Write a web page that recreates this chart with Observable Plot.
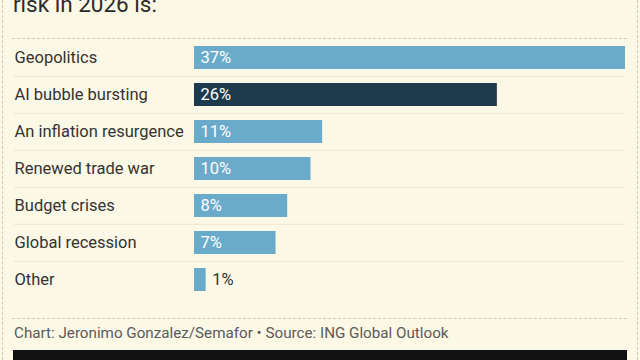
<!DOCTYPE html>
<html>
<head>
<meta charset="utf-8">
<script src="https://cdn.jsdelivr.net/npm/d3@7"></script>
<script src="https://cdn.jsdelivr.net/npm/@observablehq/plot@0.6"></script>
<style>
  html, body { margin: 0; padding: 0; background: #fcf8e6; }
  #wrap { position: relative; width: 640px; height: 360px; overflow: hidden; background: #fcf8e6; font-family: Roboto, "Noto Sans", sans-serif; }
  #border { position: absolute; left: 2px; right: 2px; top: -5px; bottom: -5px; border-left: 1px dashed #cfcabb; border-right: 1px dashed #cfcabb; }
  #title { position: absolute; left: 13px; top: -7px; font-size: 22.5px; line-height: 23px; color: #2b2b2b; white-space: nowrap; }
  .sep { position: absolute; left: 12px; width: 615px; border-top: 1px dashed #cfcabb; height: 0; }
  #chart { position: absolute; left: 0; top: 37px; }
  #footer { position: absolute; left: 14px; top: 323px; font-size: 15.2px; line-height: 20px; color: #5a5a5a; white-space: nowrap; }
  #black { position: absolute; left: 13px; width: 614px; top: 350px; height: 20px; background: #111; }
</style>
</head>
<body>
<div id="wrap">
  <div id="border"></div>
  <div id="title">risk in 2026 is:</div>
  <div class="sep" style="top:38px"></div>
  <div id="chart"></div>
  <div class="sep" style="top:318px"></div>
  <div id="footer">Chart: Jeronimo Gonzalez/Semafor • Source: ING Global Outlook</div>
  <div id="black"></div>
</div>
<script>
const categories = ["Geopolitics", "AI bubble bursting", "An inflation resurgence", "Renewed trade war", "Budget crises", "Global recession", "Other"];
const values = [37, 26, 11, 10, 8, 7, 1];
const highlight = ["AI bubble bursting"];
const valueLabels = ["37%", "26%", "11%", "10%", "8%", "7%", "1%"];

const data = categories.map((c, i) => ({category: c, value: values[i], label: valueLabels[i], hl: highlight.includes(c)}));

const W = 640, H = 262, mL = 14, mR = 15, barStart = 194;
const xMax = d3.max(values);
const xMin = -xMax * (barStart - mL) / (W - mR - barStart);
const step = H / categories.length;

const chart = Plot.plot({
  width: W,
  height: H,
  marginLeft: mL,
  marginRight: mR,
  marginTop: 0,
  marginBottom: 0,
  style: {background: "transparent", fontFamily: "Roboto, 'Noto Sans', sans-serif"},
  x: {domain: [xMin, xMax], axis: null},
  y: {domain: categories, padding: 0, axis: null},
  marks: [
    Plot.ruleY(categories.slice(1), {y: d => d, dy: -step / 2, stroke: "#ebe5cf", strokeWidth: 1}),
    Plot.barX(data, {y: "category", x: "value", fill: d => d.hl ? "#1d3b4c" : "#6aabcb", insetTop: 7, insetBottom: 7}),
    Plot.text(data, {y: "category", frameAnchor: "left", text: "category", textAnchor: "start", fill: "#333333", fontSize: 16.5}),
    Plot.text(data.filter(d => d.value >= 3), {y: "category", x: 0, dx: 6, text: "label", textAnchor: "start", fill: "#ffffff", fontSize: 16.5}),
    Plot.text(data.filter(d => d.value < 3), {y: "category", x: "value", dx: 6, text: "label", textAnchor: "start", fill: "#333333", fontSize: 16.5})
  ]
});
document.getElementById("chart").appendChild(chart);
</script>
</body>
</html>
